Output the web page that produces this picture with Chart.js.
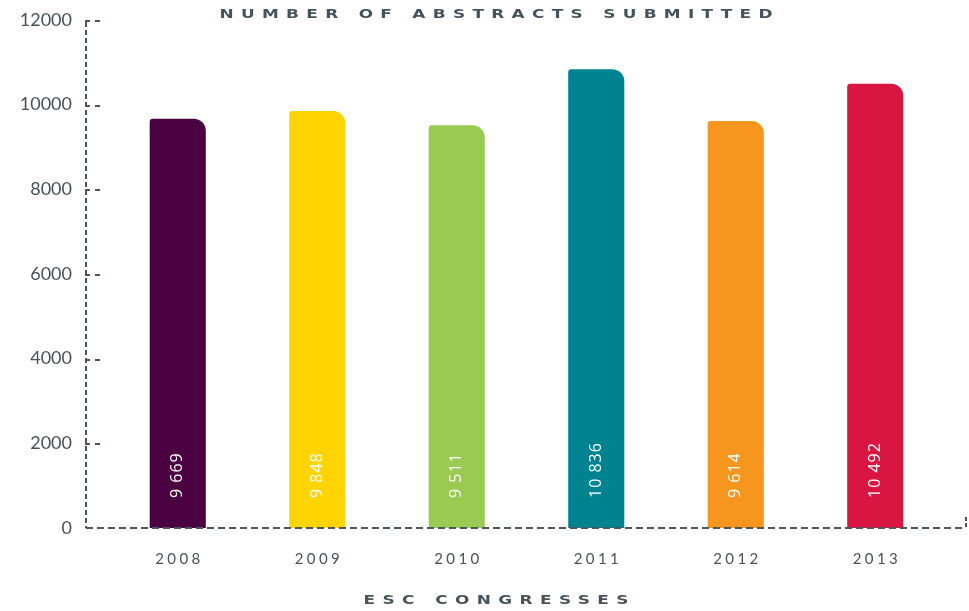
<!DOCTYPE html>
<html>
<head>
<meta charset="utf-8">
<script src="https://cdn.jsdelivr.net/npm/chart.js@4"></script>
<style>
  html, body { margin: 0; padding: 0; background: #fff; }
  #wrap { width: 969px; height: 611px; position: relative; }
</style>
</head>
<body>
<div id="wrap"><canvas id="abstractsChart"></canvas></div>
<script>
// data
const years = ["2008", "2009", "2010", "2011", "2012", "2013"];
const abstracts = [9669, 9848, 9511, 10836, 9614, 10492];
const barColors = ["#4b0042", "#ffd400", "#9aca51", "#008391", "#f7961f", "#d91541"];
const yMax = 12000;
const yStep = 2000;
const chartTitle = "NUMBER OF ABSTRACTS SUBMITTED";
const xTitle = "ESC CONGRESSES";

const inkColor = "#46535b";
const axisColor = "#4a5660";

// "9669" -> "9 669"
function spaced(n) {
    return String(n).replace(/\B(?=(\d{3})+(?!\d))/g, " ");
}

// draws text centred on cx, widened by sx and letter-spaced to the given width
function drawSpread(ctx, text, cx, cy, width, sx) {
    sx = sx || 1;
    ctx.save();
    ctx.translate(cx, cy);
    ctx.scale(sx, 1);
    ctx.letterSpacing = "0px";
    const w = ctx.measureText(text).width;
    const gap = Math.max(0, (width / sx - w) / (text.length - 1));
    ctx.letterSpacing = gap + "px";
    ctx.textAlign = "left";
    ctx.fillText(text, -(w + gap * (text.length - 1)) / 2, 0);
    ctx.restore();
}

// dashed axes, tick dashes, value labels and the spaced-out texts
const decorPlugin = {
    id: "decor",
    afterDraw(chart) {
        const { ctx, chartArea } = chart;
        const x = chart.scales.x, y = chart.scales.y;
        const axisX = chartArea.left - 22;
        const base = y.getPixelForValue(0);
        const top = y.getPixelForValue(yMax);

        ctx.save();
        ctx.strokeStyle = axisColor;
        ctx.lineWidth = 2;

        // vertical axis
        ctx.setLineDash([5, 3]);
        ctx.beginPath();
        ctx.moveTo(axisX, top + 2);
        ctx.lineTo(axisX, base);
        ctx.stroke();

        // horizontal axis
        ctx.setLineDash([7, 4]);
        ctx.beginPath();
        ctx.moveTo(axisX, base);
        ctx.lineTo(chartArea.right + 20, base);
        ctx.stroke();
        ctx.setLineDash([4, 2]);
        ctx.beginPath();
        ctx.moveTo(chartArea.right + 21, base - 11);
        ctx.lineTo(chartArea.right + 21, base + 1);
        ctx.stroke();

        // little dashes at each tick
        ctx.setLineDash([5, 5]);
        for (let v = yStep; v <= yMax; v += yStep) {
            const py = Math.round(y.getPixelForValue(v)) + 1;
            ctx.beginPath();
            ctx.moveTo(axisX - 1, py);
            ctx.lineTo(axisX + 19, py);
            ctx.stroke();
        }
        ctx.setLineDash([]);

        // values written upward inside the bars
        const meta = chart.getDatasetMeta(0);
        ctx.fillStyle = "#ffffff";
        ctx.font = "16px 'Open Sans', 'DejaVu Sans'";
        ctx.textBaseline = "middle";
        meta.data.forEach(function (bar, i) {
            ctx.save();
            ctx.translate(bar.x, bar.base - 30);
            ctx.rotate(-Math.PI / 2);
            ctx.letterSpacing = "1px";
            ctx.textAlign = "left";
            ctx.fillText(spaced(abstracts[i]), 0, 0);
            ctx.restore();
        });

        // year labels under the bars
        ctx.fillStyle = inkColor;
        ctx.font = "15px Lato, 'Open Sans'";
        ctx.textBaseline = "middle";
        years.forEach(function (yr, i) {
            drawSpread(ctx, yr, x.getPixelForValue(i), base + 31, 45);
        });

        // titles
        ctx.font = "bold 13px 'DejaVu Sans', Lato";
        drawSpread(ctx, chartTitle, 496, 15, 553, 1.3);
        drawSpread(ctx, xTitle, 496, 601, 265, 1.3);
        ctx.restore();
    }
};

new Chart(document.getElementById("abstractsChart"), {
    type: "bar",
    data: {
        labels: years,
        datasets: [{
            data: abstracts,
            backgroundColor: barColors,
            borderWidth: 0,
            borderRadius: { topLeft: 3, topRight: 12, bottomLeft: 0, bottomRight: 0 },
            borderSkipped: "start",
            categoryPercentage: 1,
            barPercentage: 0.402
        }]
    },
    options: {
        responsive: true,
        maintainAspectRatio: false,
        animation: false,
        layout: { padding: { top: 20, right: 24, bottom: 83, left: 0 } },
        plugins: {
            legend: { display: false },
            title: { display: false },
            tooltip: { enabled: false }
        },
        scales: {
            x: { display: false },
            y: {
                min: 0,
                max: yMax,
                ticks: {
                    stepSize: yStep,
                    padding: 0,
                    color: inkColor,
                    font: { family: "Lato, 'Open Sans'", size: 18 },
                    callback: function (v) { return String(v); }
                },
                grid: { display: false, drawTicks: true, tickLength: 36 },
                border: { display: false },
                afterFit(scale) { scale.width = 108; }
            }
        }
    },
    plugins: [decorPlugin]
});
</script>
</body>
</html>
